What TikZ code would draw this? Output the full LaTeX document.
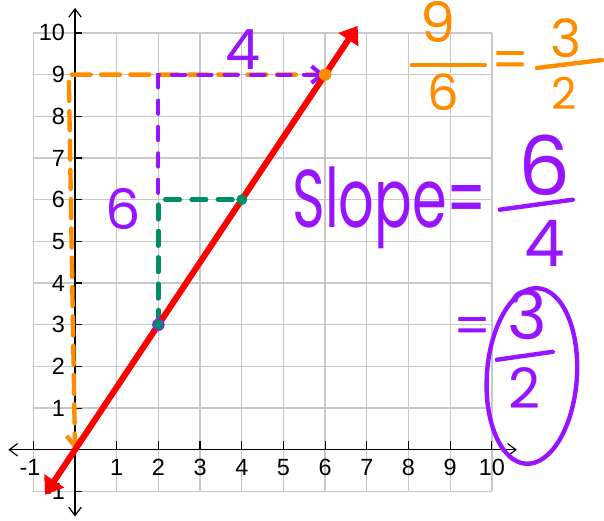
\documentclass[tikz,border=0pt]{standalone}
\usepackage{fontspec}
\setmainfont{Liberation Sans}
\newfontfamily\handfont{Poppins}
\usetikzlibrary{arrows.meta,positioning,calc}
\definecolor{lineRed}{RGB}{255,0,0}
\definecolor{penOrange}{RGB}{255,140,0}
\definecolor{penPurple}{RGB}{150,20,255}
\definecolor{penGreen}{RGB}{0,140,100}
\definecolor{gridGray}{RGB}{200,200,200}
\begin{document}
\begin{tikzpicture}[x=1cm, y=1cm, font=\fontsize{16}{16}\selectfont,
    gridline/.style={draw=gridGray, line width=0.9pt},
    axis/.style={draw=black, line width=0.8pt, {Straight Barb[length=2mm,width=3mm]}-{Straight Barb[length=2mm,width=3mm]}},
    tickmark/.style={draw=black, line width=0.8pt},
    orangedash/.style={draw=penOrange, line width=3pt, dash pattern=on 13pt off 7pt, line cap=round},
    purpledash/.style={draw=penPurple, line width=2.8pt, dash pattern=on 9pt off 9pt, line cap=round},
    greendash/.style={draw=penGreen, line width=3pt, dash pattern=on 10pt off 8pt, line cap=round},
    handtext/.style={inner sep=0pt, font=\handfont\fontsize{#1}{#1}\selectfont},
    fracbar/.style={line width=3pt, line cap=round}]
    \useasboundingbox (-1.80,-1.70) rectangle (12.69,10.79);
    \draw[gridline] (-1,-1) grid (10,10);
    \draw[axis] (-1.6,0) -- (10.6,0);
    \draw[axis] (0,-1.6) -- (0,10.6);
    \foreach \x in {-1,1,2,...,10}{\draw[tickmark] (\x,0) -- (\x,0.2);}
    \foreach \y in {-1,1,2,...,10}{\draw[tickmark] (0,\y) -- (0.17,\y);}
    \node (xlm) at (-1.08,-0.43) {-1};
    \foreach \x in {1,...,10}{\node (xl\x) at (\x,-0.43) {\x};}
    \foreach \y in {-1,1,2,...,10}{\node[anchor=east, inner sep=1pt] (yl\y) at (-0.2,\y) {\y};}
    \coordinate (O) at (0,0);
    \coordinate (A) at (2,3);
    \coordinate (G) at (2,6);
    \coordinate (B) at (4,6);
    \coordinate (K) at (2,9);
    \coordinate (C) at (6,9);
    \coordinate (T) at (-0.15,9);
    \coordinate (lineLow) at (-0.72,-1.08);
    \coordinate (lineHigh) at (6.78,10.17);
    \draw[orangedash] (C) -- (T) -- (O);
    \draw[penOrange, line width=3pt, -{Straight Barb[length=2.5mm,width=4mm]}] ($(O)+(0,0.35)$) -- (O);
    \draw[purpledash] (A) -- (K) -- (C);
    \draw[penPurple, line width=2.8pt, -{Straight Barb[length=2.5mm,width=4mm]}] ($(C)+(-0.35,0)$) -- (C);
    \draw[greendash] (A) -- (G) -- (B);
    \draw[lineRed, line width=4.2pt, {Triangle[length=4mm,width=5.5mm]}-{Triangle[length=4mm,width=5.5mm]}] (lineLow) -- (lineHigh);
    \fill[penOrange] (C) circle (0.15);
    \fill[penPurple] (A) circle (0.15);
    \fill[penGreen] (A) circle (0.12);
    \fill[penGreen] (B) circle (0.13);
    \node[handtext=38, text=penPurple] (run) at (4.03,9.59) {4};
    \node[handtext=38, text=penPurple] (rise) at (1.15,5.78) {6};
    \node[handtext=56, text=penPurple] (slope) at (7.55,5.8) {\scalebox{0.68}[1]{Slope=}};
    \node[handtext=56, text=penPurple] (num64) at (11.27,6.83) {6};
    \node[handtext=44, text=penPurple] (den64) at (11.27,4.96) {4};
    \draw[fracbar, penPurple] (10.19,5.76) -- (11.94,6.0);
    \node[handtext=38, text=penOrange] (num96) at (8.70,10.26) {9};
    \node[handtext=34, text=penOrange] (den96) at (8.83,8.58) {6};
    \draw[fracbar, penOrange] (8.08,9.23) -- (9.83,9.23);
    \node[handtext=36, text=penOrange] (eqOrange) at (10.46,9.23) {=};
    \node[handtext=36, text=penOrange] (num32) at (11.77,9.88) {3};
    \node[handtext=30, text=penOrange] (den32) at (11.73,8.56) {2};
    \draw[fracbar, penOrange] (11.08,9.16) -- (12.64,9.35);
    \node[handtext=36, text=penPurple] (eqPurple) at (9.54,2.85) {=};
    \node[handtext=46, text=penPurple] (numAns) at (10.86,3.24) {3};
    \node[handtext=38, text=penPurple] (denAns) at (10.79,1.49) {2};
    \draw[fracbar, penPurple] (10.12,2.16) -- (11.46,2.35);
    \draw[penPurple, line width=3pt, rotate around={-4:(10.96,1.77)}] (10.96,1.77) ellipse (1.08 and 2.11);
\end{tikzpicture}
\end{document}
